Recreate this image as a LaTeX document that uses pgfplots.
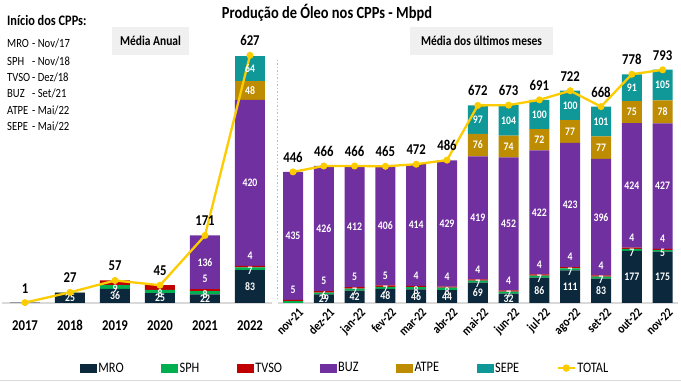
\documentclass[border=0pt]{standalone}
\usepackage{pgfplots}
\pgfplotsset{compat=1.18}
\usepackage{pgfplotstable}
\usepackage{fontspec}
\setmainfont{Carlito}[FakeStretch=0.85]

\definecolor{cMRO}{RGB}{12,40,60}
\definecolor{cSPH}{RGB}{0,176,80}
\definecolor{cTVSO}{RGB}{192,0,0}
\definecolor{cBUZ}{RGB}{112,48,160}
\definecolor{cATPE}{RGB}{189,140,0}
\definecolor{cSEPE}{RGB}{16,152,152}
\definecolor{cTOT}{RGB}{252,204,0}
\definecolor{cAxis}{RGB}{217,217,217}
\definecolor{cDash}{RGB}{169,209,142}
\definecolor{cBox}{RGB}{240,240,240}

\newcommand{\fs}[1]{\fontsize{#1}{#1}\selectfont}

\pgfplotstableread{
x MRO SPH TVSO BUZ ATPE SEPE TOT lMRO lSPH lTVSO lBUZ lATPE lSEPE
0 1 0 0 0 0 0 1 {} {} {} {} {} {}
1 25 1 1 0 0 0 27 25 {} {} {} {} {}
2 36 9 12 0 0 0 57 36 9 {} {} {} {}
3 25 8 12 0 0 0 45 25 8 {} {} {} {}
4 22 8 5 136 0 0 171 22 8 5 136 {} {}
5 83 7 4 420 48 64 627 83 7 4 420 48 64
}\yrs

\pgfplotstableread{
x MRO SPH TVSO BUZ ATPE SEPE TOT lMRO lSPH lTVSO lBUZ lATPE lSEPE
0 0 6 5 435 0 0 446 {} {} 5 435 {} {}
1 29 6 5 426 0 0 466 29 6 5 426 {} {}
2 42 7 5 412 0 0 466 42 7 5 412 {} {}
3 48 7 5 406 0 0 465 48 7 5 406 {} {}
4 46 8 4 414 0 0 472 46 8 4 414 {} {}
5 44 8 4 429 0 0 486 44 8 4 429 {} {}
6 69 7 4 419 76 97 672 69 7 4 419 76 97
7 32 7 4 452 74 104 673 32 7 4 452 74 104
8 86 7 4 422 72 100 691 86 7 4 422 72 100
9 111 7 4 423 77 100 722 111 7 4 423 77 100
10 83 7 4 396 77 101 668 83 7 4 396 77 101
11 177 7 4 424 75 91 778 177 7 4 424 75 91
12 175 5 4 427 78 105 793 175 5 4 427 78 105
}\mon

\pgfplotsset{
  base/.style={
    ybar stacked, clip=false, enlargelimits=false,
    axis x line*=bottom, axis y line=none,
    x axis line style={cAxis, line width=1.5pt, -},
    ymin=0, xtick=data, major tick length=0pt,
    anchor=south west,
  },
  over/.style={clip=false, enlargelimits=false, hide axis, ymin=0, anchor=south west},
  seg/.style={fill=#1, draw=none,
    legend image code/.code={\fill[#1] (0pt,-4.5pt) rectangle (17pt,4.5pt);}},
  lab/.style={draw=none, mark=none, forget plot,
    nodes near coords, point meta=explicit symbolic,
    every node near coord/.style={anchor=center, inner sep=0pt, text=white,
      font=\bfseries\fs{11.5}}},
  tot/.style={draw=cTOT, line width=2.3pt,
    mark=*, mark size=2.3pt, mark options={fill=cTOT, draw=cTOT},
    nodes near coords, point meta=explicit symbolic,
    every node near coord/.style={anchor=south, yshift=5pt, text=black,
      font=\bfseries\fs{15}},
    legend image code/.code={\draw[cTOT, line width=2.3pt] (0pt,0pt) -- (17pt,0pt);
      \fill[cTOT] (8.5pt,0pt) circle (2.5pt);}},
  geoL/.style={at={(2.5pt,79pt)}, x=45pt, y=0.395pt, xmin=-0.5, xmax=5.5, ymax=700},
  geoR/.style={at={(277.6pt,79pt)}, x=30.8pt, y=0.294pt, xmin=-0.5, xmax=12.5, ymax=900},
}

\begin{document}
\begin{tikzpicture}
\useasboundingbox (0,0) rectangle (681pt,382pt);

% ---------- left: annual ----------
\begin{axis}[base, geoL, bar width=30pt,
  xticklabels={2017,2018,2019,2020,2021,2022},
  xticklabel style={font=\bfseries\fs{15}, yshift=-14pt},
]
\addplot[seg=cMRO] table[x=x,y=MRO]{\yrs};
\addplot[seg=cSPH] table[x=x,y=SPH]{\yrs};
\addplot[seg=cTVSO] table[x=x,y=TVSO]{\yrs};
\addplot[seg=cBUZ] table[x=x,y=BUZ]{\yrs};
\addplot[seg=cATPE] table[x=x,y=ATPE]{\yrs};
\addplot[seg=cSEPE] table[x=x,y=SEPE]{\yrs};
\end{axis}
\begin{axis}[over, geoL]
\addplot[lab] table[x=x, y expr={0.5*\thisrow{MRO}}, meta=lMRO]{\yrs};
\addplot[lab] table[x=x, y expr={\thisrow{MRO}+0.5*\thisrow{SPH}-4}, meta=lSPH]{\yrs};
\addplot[lab] table[x=x, y expr={\thisrow{MRO}+\thisrow{SPH}+\thisrow{TVSO}+25}, meta=lTVSO]{\yrs};
\addplot[lab] table[x=x, y expr={\thisrow{MRO}+\thisrow{SPH}+\thisrow{TVSO}+0.5*\thisrow{BUZ}}, meta=lBUZ]{\yrs};
\addplot[lab] table[x=x, y expr={\thisrow{MRO}+\thisrow{SPH}+\thisrow{TVSO}+\thisrow{BUZ}+0.5*\thisrow{ATPE}}, meta=lATPE]{\yrs};
\addplot[lab] table[x=x, y expr={\thisrow{MRO}+\thisrow{SPH}+\thisrow{TVSO}+\thisrow{BUZ}+\thisrow{ATPE}+0.5*\thisrow{SEPE}}, meta=lSEPE]{\yrs};
\addplot[tot] table[x=x, y=TOT, meta=TOT]{\yrs};
\end{axis}

% ---------- right: monthly ----------
\begin{axis}[base, geoR, bar width=20pt,
  xticklabels={nov-21,dez-21,jan-22,fev-22,mar-22,abr-22,mai-22,jun-22,jul-22,ago-22,set-22,out-22,nov-22},
  xticklabel style={font=\bfseries\fs{13}, rotate=45, anchor=north east, xshift=4pt, yshift=-3pt},
]
\addplot[seg=cMRO] table[x=x,y=MRO]{\mon};
\addplot[seg=cSPH] table[x=x,y=SPH]{\mon};
\addplot[seg=cTVSO] table[x=x,y=TVSO]{\mon};
\addplot[seg=cBUZ] table[x=x,y=BUZ]{\mon};
\addplot[seg=cATPE] table[x=x,y=ATPE]{\mon};
\addplot[seg=cSEPE] table[x=x,y=SEPE]{\mon};
\draw[cDash, line width=1.5pt, dash pattern=on 1.5pt off 2pt] (axis cs:-0.5,12) -- (axis cs:-0.5,826);
\end{axis}
\begin{axis}[over, geoR,
  legend columns=7,
  legend style={at={(0.168,-0.246)}, anchor=center, draw=none, fill=none,
    font=\fs{14.5}, /tikz/every even column/.append style={column sep=36pt},
    nodes={inner sep=1.5pt}},
]
\addlegendimage{seg=cMRO}
\addlegendimage{seg=cSPH}
\addlegendimage{seg=cTVSO}
\addlegendimage{seg=cBUZ}
\addlegendimage{seg=cATPE}
\addlegendimage{seg=cSEPE}
\addplot[lab] table[x=x, y expr={0.5*\thisrow{MRO}}, meta=lMRO]{\mon};
\addplot[lab] table[x=x, y expr={\thisrow{MRO}+0.5*\thisrow{SPH}-8}, meta=lSPH]{\mon};
\addplot[lab] table[x=x, y expr={\thisrow{MRO}+\thisrow{SPH}+\thisrow{TVSO}+34}, meta=lTVSO]{\mon};
\addplot[lab] table[x=x, y expr={\thisrow{MRO}+\thisrow{SPH}+\thisrow{TVSO}+0.5*\thisrow{BUZ}}, meta=lBUZ]{\mon};
\addplot[lab] table[x=x, y expr={\thisrow{MRO}+\thisrow{SPH}+\thisrow{TVSO}+\thisrow{BUZ}+0.5*\thisrow{ATPE}}, meta=lATPE]{\mon};
\addplot[lab] table[x=x, y expr={\thisrow{MRO}+\thisrow{SPH}+\thisrow{TVSO}+\thisrow{BUZ}+\thisrow{ATPE}+0.5*\thisrow{SEPE}}, meta=lSEPE]{\mon};
\addplot[tot] table[x=x, y=TOT, meta=TOT]{\mon};
\legend{MRO,SPH,TVSO,BUZ,ATPE,SEPE,TOTAL}
\end{axis}

% ---------- texts ----------
\node[font=\bfseries\fs{17}] at (327pt,369pt) {Produção de Óleo nos CPPs - Mbpd};
\node[anchor=west, inner sep=0pt, font=\bfseries\fs{14.5}] at (7pt,362pt) {Início dos CPPs:};
\begin{scope}[every node/.style={anchor=west, inner sep=0pt, font=\fs{12.5}}]
\node at (7pt,339pt) {\makebox[25pt][l]{MRO}- Nov/17};
\node at (7pt,321pt) {\makebox[25pt][l]{SPH}- Nov/18};
\node at (7pt,305pt) {\makebox[25pt][l]{TVSO}- Dez/18};
\node at (7pt,289pt) {\makebox[25pt][l]{BUZ}- Set/21};
\node at (7pt,272pt) {\makebox[25pt][l]{ATPE}- Mai/22};
\node at (7pt,256pt) {\makebox[25pt][l]{SEPE}- Mai/22};
\end{scope}
\fill[cBox] (112pt,327pt) rectangle (189pt,355pt);
\node[font=\bfseries\fs{13.5}] at (150.5pt,341pt) {Média Anual};
\fill[cBox] (410pt,327pt) rectangle (553pt,355pt);
\node[font=\bfseries\fs{13.5}] at (481.5pt,341pt) {Média dos últimos meses};
\draw[cAxis, line width=1.5pt] (0pt,1.5pt) -- (681pt,1.5pt);
\end{tikzpicture}
\end{document}
